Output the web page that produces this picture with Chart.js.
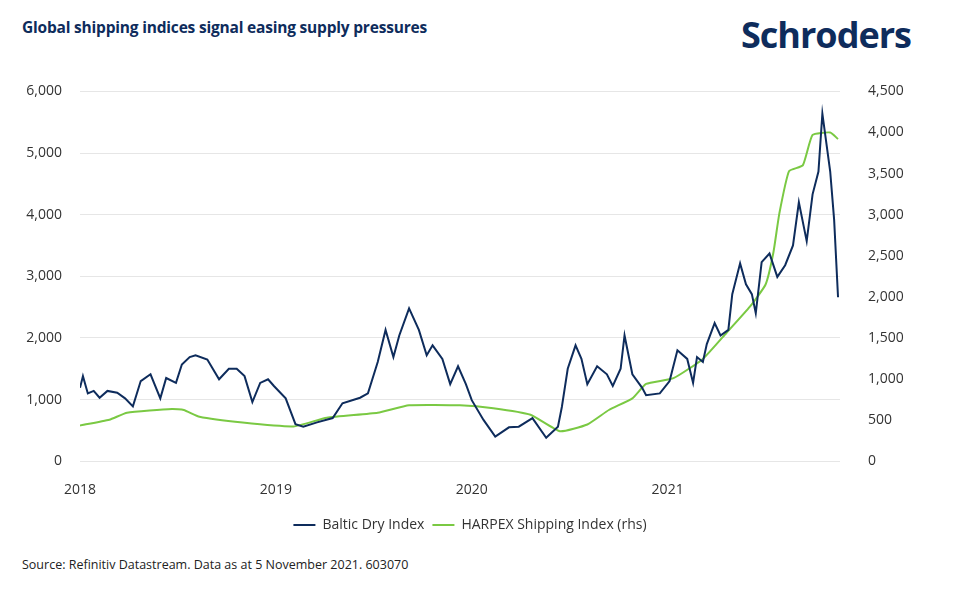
<!DOCTYPE html>
<html>
<head>
<meta charset="utf-8">
<script src="https://cdn.jsdelivr.net/npm/chart.js"></script>
<style>
  body { margin: 0; background: #fff; font-family: "Open Sans", "Noto Sans", sans-serif; }
  #page { position: relative; width: 960px; height: 599px; overflow: hidden; }
  #title { position: absolute; left: 22px; top: 16px; font-size: 15.5px; font-weight: 700; color: #0e2c5c; letter-spacing: -0.2px; }
  #logo { position: absolute; left: 741px; top: 10px; font-size: 36px; font-weight: 700; color: #0e2c5c; letter-spacing: -1px; }
  #source { position: absolute; left: 22px; top: 556px; font-size: 12.5px; color: #222; }
  #wrap { position: absolute; left: 20px; top: 63px; width: 900px; height: 479px; }
</style>
</head>
<body>
<div id="page">
  <div id="title">Global shipping indices signal easing supply pressures</div>
  <div id="logo">Schroders</div>
  <div id="wrap"><canvas id="chart"></canvas></div>
  <div id="source">Source: Refinitiv Datastream. Data as at 5 November 2021. 603070</div>
</div>
<script>
// Baltic Dry Index (left axis), x = decimal year
const bdiYears = [2018.0, 2018.015, 2018.04, 2018.07, 2018.1, 2018.14, 2018.19, 2018.23, 2018.27, 2018.31, 2018.36, 2018.41, 2018.44, 2018.49, 2018.52, 2018.56, 2018.59, 2018.65, 2018.71, 2018.76, 2018.8, 2018.84, 2018.88, 2018.92, 2018.96, 2018.99, 2019.05, 2019.1, 2019.14, 2019.21, 2019.29, 2019.34, 2019.43, 2019.47, 2019.52, 2019.56, 2019.6, 2019.63, 2019.68, 2019.73, 2019.77, 2019.8, 2019.85, 2019.89, 2019.93, 2019.97, 2020.0, 2020.06, 2020.12, 2020.19, 2020.24, 2020.31, 2020.38, 2020.44, 2020.46, 2020.49, 2020.53, 2020.56, 2020.59, 2020.64, 2020.69, 2020.72, 2020.76, 2020.78, 2020.82, 2020.87, 2020.89, 2020.96, 2021.01, 2021.05, 2021.1, 2021.13, 2021.15, 2021.18, 2021.2, 2021.24, 2021.27, 2021.31, 2021.33, 2021.37, 2021.4, 2021.43, 2021.45, 2021.48, 2021.52, 2021.56, 2021.6, 2021.64, 2021.67, 2021.71, 2021.74, 2021.77, 2021.79, 2021.83, 2021.85, 2021.87];
const bdiValues = [1190, 1380, 1100, 1140, 1030, 1140, 1110, 1020, 890, 1300, 1410, 1020, 1350, 1270, 1570, 1690, 1720, 1650, 1330, 1500, 1500, 1380, 960, 1270, 1330, 1220, 1020, 600, 560, 630, 700, 940, 1030, 1100, 1610, 2130, 1690, 2040, 2480, 2130, 1720, 1880, 1660, 1250, 1540, 1250, 990, 670, 400, 550, 560, 700, 380, 560, 880, 1500, 1880, 1660, 1250, 1540, 1410, 1220, 1500, 2040, 1410, 1190, 1070, 1100, 1300, 1800, 1660, 1270, 1690, 1610, 1900, 2240, 2040, 2130, 2710, 3210, 2870, 2710, 2400, 3230, 3370, 2990, 3180, 3500, 4200, 3570, 4330, 4700, 5640, 4700, 3920, 2660];
// HARPEX Shipping Index (right axis)
const harpexYears = [2018.0, 2018.15, 2018.24, 2018.47, 2018.53, 2018.61, 2018.83, 2019.09, 2019.26, 2019.52, 2019.68, 2019.94, 2020.11, 2020.3, 2020.45, 2020.59, 2020.7, 2020.82, 2020.89, 2021.03, 2021.18, 2021.3, 2021.42, 2021.5, 2021.54, 2021.57, 2021.62, 2021.69, 2021.74, 2021.83, 2021.87];
const harpexValues = [435, 505, 590, 635, 623, 540, 470, 423, 530, 590, 680, 680, 645, 565, 365, 447, 623, 765, 940, 1010, 1245, 1560, 1880, 2150, 2540, 3010, 3530, 3600, 3970, 4000, 3920];
const yearTicks = [2018, 2019, 2020, 2021];

const navy = '#0e2c5c';
const green = '#7ac943';
const fmt = v => v.toLocaleString('en-US');
const tickFont = { size: 14, family: '"Open Sans", sans-serif' };

new Chart(document.getElementById('chart'), {
  type: 'line',
  data: {
    datasets: [
      { label: 'Baltic Dry Index', data: bdiYears.map((x, i) => ({ x, y: bdiValues[i] })),
        borderColor: navy, backgroundColor: navy, borderWidth: 2, pointRadius: 0, tension: 0, yAxisID: 'y' },
      { label: 'HARPEX Shipping Index (rhs)', data: harpexYears.map((x, i) => ({ x, y: harpexValues[i] })),
        borderColor: green, backgroundColor: green, borderWidth: 2, pointRadius: 0, tension: 0.15, yAxisID: 'y1' }
    ]
  },
  options: {
    responsive: true, maintainAspectRatio: false, animation: false,
    layout: { padding: { top: 10 } },
    plugins: {
      tooltip: { enabled: false },
      legend: { position: 'bottom',
        labels: { boxWidth: 22, boxHeight: 0, padding: 8, color: '#333', font: { size: 14, family: '"Open Sans", sans-serif' } } }
    },
    scales: {
      x: { type: 'linear', min: 2018, max: 2021.88,
        afterBuildTicks: s => { s.ticks = yearTicks.map(v => ({ value: v })); },
        grid: { display: false }, border: { display: false },
        ticks: { callback: v => String(v), color: '#333', font: tickFont, padding: 12 } },
      y: { position: 'left', min: 0, max: 6000,
        afterFit: s => { s.width = 60; },
        ticks: { stepSize: 1000, callback: fmt, color: '#333', font: tickFont, padding: 18 },
        grid: { color: '#e6e6e6', drawTicks: false }, border: { display: false } },
      y1: { position: 'right', min: 0, max: 4500,
        afterFit: s => { s.width = 80; },
        ticks: { stepSize: 500, callback: fmt, color: '#333', font: tickFont, padding: 20 },
        grid: { display: false }, border: { display: false } }
    }
  }
});
</script>
</body>
</html>
